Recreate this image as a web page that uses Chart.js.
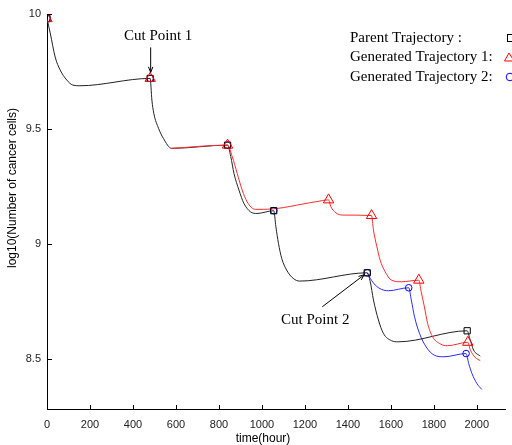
<!DOCTYPE html>
<html>
<head>
<meta charset="utf-8">
<script src="https://cdn.jsdelivr.net/npm/chart.js@4.4.0/dist/chart.umd.min.js"></script>
<style>
  html, body { margin: 0; padding: 0; background: #fff; }
  canvas { display: block; }
</style>
</head>
<body>
<canvas id="chart" width="512" height="445"></canvas>
<script>
// values (time in hours, log10 of cell count)
const parentTime = [0, 15, 38, 61, 92, 120, 153, 480, 488, 497, 519, 541, 580, 840, 855, 870, 893, 916, 947, 977,
  1055, 1065, 1077, 1092, 1115, 1145, 1176, 1490, 1504, 1519, 1542, 1565, 1603, 1634, 1955, 1967, 1985, 2016];
const parentValue = [9.98, 9.917, 9.813, 9.757, 9.713, 9.691, 9.688, 9.72, 9.626, 9.568, 9.503, 9.46, 9.416, 9.43,
  9.38, 9.307, 9.235, 9.177, 9.14, 9.133, 9.145, 9.075, 9.003, 8.938, 8.887, 8.851, 8.839, 8.875, 8.836, 8.757,
  8.67, 8.612, 8.58, 8.575, 8.623, 8.59, 8.539, 8.513];

// generated trajectory 1 leaves the parent after 840 h
const gen1Time = [862, 885, 908, 931, 969, 1008, 1252, 1310, 1321, 1344, 1374, 1510, 1519, 1535, 1550, 1573, 1603,
  1649, 1730, 1741, 1756, 1771, 1794, 1832, 1863, 1958, 1970, 1993, 2016];
const gen1Value = [9.38, 9.307, 9.235, 9.184, 9.151, 9.151, 9.184, 9.192, 9.162, 9.136, 9.126, 9.124, 9.061, 8.988,
  8.93, 8.88, 8.843, 8.836, 8.843, 8.793, 8.727, 8.655, 8.597, 8.565, 8.558, 8.573, 8.539, 8.507, 8.493];

// generated trajectory 2 leaves the parent after 1490 h
const gen2Time = [1504, 1527, 1557, 1588, 1683, 1695, 1710, 1733, 1764, 1802, 1847, 1950, 1962, 1977, 2000, 2023];
const gen2Value = [8.851, 8.822, 8.803, 8.797, 8.81, 8.757, 8.684, 8.612, 8.553, 8.517, 8.51, 8.524, 8.481, 8.438,
  8.394, 8.368];

// markers at the cut points
const parentCutTime = [0, 480, 840, 1055, 1490, 1955];
const parentCutValue = [9.98, 9.72, 9.43, 9.145, 8.875, 8.623];
const gen1CutTime = [0, 480, 840, 1310, 1510, 1730, 1958];
const gen1CutValue = [9.98, 9.72, 9.43, 9.192, 9.124, 8.843, 8.573];
const gen2CutTime = [0, 480, 840, 1055, 1490, 1683, 1950];
const gen2CutValue = [9.98, 9.72, 9.43, 9.145, 8.875, 8.81, 8.524];

const annotTime = [480, 1490];
const annotValue = [9.72, 8.875];
const annotText = ['Cut Point 1', 'Cut Point 2'];

const legendText = ['Parent Trajectory :', 'Generated Trajectory 1:', 'Generated Trajectory 2:'];

const xTicks = [0, 200, 400, 600, 800, 1000, 1200, 1400, 1600, 1800, 2000];
const yTicks = [8.5, 9, 9.5, 10];

const toPoints = (ts, vs) => ts.map((t, i) => ({ x: t, y: vs[i] }));
const parentPts = toPoints(parentTime, parentValue);

// red shows from the plateau before cut 2 on, blue from cut point 2 on
const gen1Pts = parentPts.filter(p => p.x >= 580 && p.x <= 840).concat(toPoints(gen1Time, gen1Value));
const gen2Pts = parentPts.filter(p => p.x === 1490).concat(toPoints(gen2Time, gen2Value));

const SERIF = '15px "Liberation Serif", "Times New Roman", serif';
const SANS = '"Liberation Sans", Arial, sans-serif';

function arrow(ctx, x0, y0, x1, y1) {
  const a = Math.atan2(y1 - y0, x1 - x0), h = 6, w = 0.38;
  ctx.moveTo(x0, y0);
  ctx.lineTo(x1, y1);
  ctx.moveTo(x1 - h * Math.cos(a - w), y1 - h * Math.sin(a - w));
  ctx.lineTo(x1, y1);
  ctx.lineTo(x1 - h * Math.cos(a + w), y1 - h * Math.sin(a + w));
}

const overlay = {
  id: 'overlay',
  afterDraw(chart) {
    const { ctx, chartArea } = chart;
    const xs = chart.scales.x, ys = chart.scales.y;
    ctx.save();

    // inward tick marks
    ctx.strokeStyle = '#000';
    ctx.lineWidth = 1;
    ctx.beginPath();
    xs.ticks.forEach(t => {
      const px = Math.round(xs.getPixelForValue(t.value)) + 0.5;
      ctx.moveTo(px, chartArea.bottom);
      ctx.lineTo(px, chartArea.bottom - 4);
    });
    ys.ticks.forEach(t => {
      const py = Math.round(ys.getPixelForValue(t.value)) + 0.5;
      ctx.moveTo(chartArea.left, py);
      ctx.lineTo(chartArea.left + 5, py);
    });
    ctx.stroke();

    // axis titles
    ctx.fillStyle = '#000';
    ctx.font = '12px ' + SANS;
    ctx.textAlign = 'center';
    ctx.textBaseline = 'middle';
    ctx.fillText('time(hour)', 263, 439);
    ctx.save();
    ctx.translate(13, 188);
    ctx.rotate(-Math.PI / 2);
    ctx.fillText('log10(Number of cancer cells)', 0, 0);
    ctx.restore();

    // cut point annotations
    ctx.font = SERIF;
    const p1x = xs.getPixelForValue(annotTime[0]), p1y = ys.getPixelForValue(annotValue[0]);
    const p2x = xs.getPixelForValue(annotTime[1]), p2y = ys.getPixelForValue(annotValue[1]);
    ctx.fillText(annotText[0], p1x + 8, p1y - 42);
    ctx.fillText(annotText[1], p2x - 52, p2y + 47);
    ctx.beginPath();
    arrow(ctx, p1x + 0.5, p1y - 31, p1x + 0.5, p1y - 6);
    arrow(ctx, p2x - 45, p2y + 34, p2x - 3, p2y + 2);
    ctx.stroke();

    // legend text with markers cut by the right edge
    ctx.textAlign = 'left';
    const rows = [38, 57.5, 77];
    legendText.forEach((s, i) => ctx.fillText(s, 350, rows[i]));
    ctx.lineWidth = 1;
    ctx.strokeStyle = '#000';
    ctx.strokeRect(507.5, rows[0] - 3.5, 7, 7);
    ctx.strokeStyle = '#f00';
    ctx.beginPath();
    ctx.moveTo(509, rows[1] - 4.5);
    ctx.lineTo(514, rows[1] + 3.5);
    ctx.lineTo(504.5, rows[1] + 3.5);
    ctx.closePath();
    ctx.stroke();
    ctx.strokeStyle = '#00f';
    ctx.beginPath();
    ctx.arc(510, rows[2], 3.8, 0, Math.PI * 2);
    ctx.stroke();

    ctx.restore();
  }
};

const plainLabel = v => String(v);

new Chart(document.getElementById('chart'), {
  type: 'line',
  data: {
    datasets: [
      {
        data: toPoints(gen1CutTime, gen1CutValue), showLine: false,
        pointStyle: 'triangle', pointRadius: 6, borderColor: '#f00', borderWidth: 1,
        pointBackgroundColor: 'rgba(0,0,0,0)'
      },
      {
        data: toPoints(parentCutTime, parentCutValue), showLine: false,
        pointStyle: 'rect', pointRadius: 4.4, borderColor: '#000', borderWidth: 1,
        pointBackgroundColor: 'rgba(0,0,0,0)'
      },
      {
        data: toPoints(gen2CutTime, gen2CutValue), showLine: false,
        pointStyle: 'circle', pointRadius: 3.3, borderColor: '#00f', borderWidth: 1,
        pointBackgroundColor: 'rgba(0,0,0,0)'
      },
      { data: gen1Pts, borderColor: '#ff2a2a', borderWidth: 1, pointRadius: 0, cubicInterpolationMode: 'monotone' },
      { data: parentPts, borderColor: '#222', borderWidth: 1, pointRadius: 0, cubicInterpolationMode: 'monotone' },
      { data: gen2Pts, borderColor: '#2a2aff', borderWidth: 1, pointRadius: 0, cubicInterpolationMode: 'monotone' }
    ]
  },
  options: {
    responsive: false,
    animation: false,
    events: [],
    layout: { padding: { top: 14, right: 0, left: 0, bottom: 0 } },
    plugins: { legend: { display: false }, tooltip: { enabled: false } },
    scales: {
      x: {
        type: 'linear',
        min: 0,
        max: 2131,
        afterBuildTicks: s => { s.ticks = xTicks.map(v => ({ value: v })); },
        afterFit: s => { s.height = 36; },
        grid: { drawOnChartArea: false, drawTicks: false },
        border: { display: true, color: '#000', width: 1 },
        ticks: { color: '#222', padding: 9, maxRotation: 0, autoSkip: false, callback: plainLabel,
          font: { family: SANS, size: 11 } }
      },
      y: {
        type: 'linear',
        min: 8.283,
        max: 10,
        afterBuildTicks: s => { s.ticks = yTicks.map(v => ({ value: v })); },
        afterFit: s => { s.width = 47; },
        grid: { drawOnChartArea: false, drawTicks: false },
        border: { display: true, color: '#000', width: 1 },
        ticks: { color: '#222', padding: 6, callback: plainLabel, font: { family: SANS, size: 11 } }
      }
    }
  },
  plugins: [overlay]
});
</script>
</body>
</html>
